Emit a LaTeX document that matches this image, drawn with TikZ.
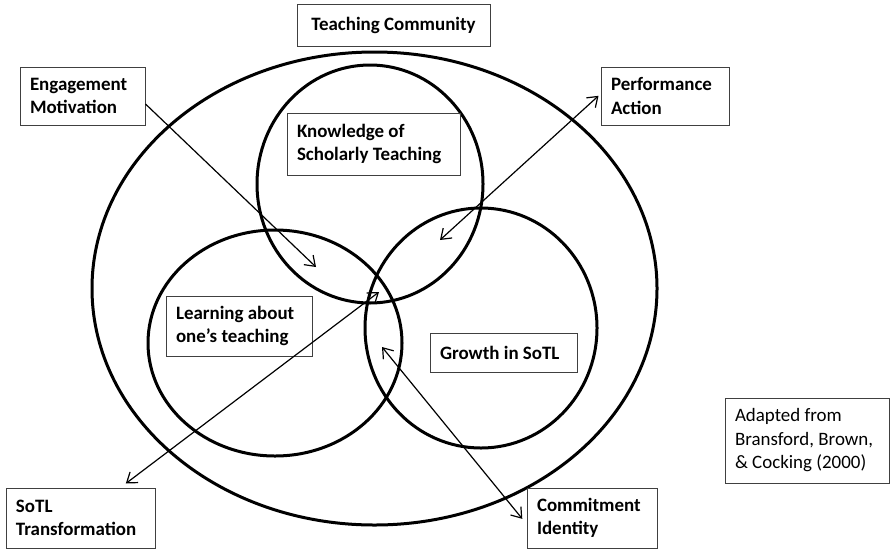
\documentclass[tikz,border=0pt]{standalone}
\usepackage{fontspec}
\setmainfont{Carlito}
\usetikzlibrary{arrows.meta}

\tikzset{
	lbl/.style={draw=black!75, line width=0.75pt, font=\bfseries\fontsize{14.2}{17.6}\selectfont, align=flush left, inner xsep=7.5pt, inner ysep=2pt},
	ring/.style={line width=2.25pt},
	oneway/.style={line width=0.9pt, -{Straight Barb[length=7pt,width=10pt]}},
	twoway/.style={line width=0.9pt, {Straight Barb[length=7pt,width=10pt]}-{Straight Barb[length=7pt,width=10pt]}},
}

\begin{document}
\begin{tikzpicture}[x=0.75pt, y=-0.75pt]
	\useasboundingbox (0,0) rectangle (891,550);

	% community and the three fields
	\draw[ring] (374.5,288.5) ellipse [x radius=282.5, y radius=236.5];
	\foreach \cx/\cy/\rx/\ry in {370/184/113/119, 275/343/127/113, 481/328/116/120} {
			\draw[ring] (\cx,\cy) ellipse [x radius=\rx, y radius=\ry];
		}

	% labels
	\node[lbl, align=flush center, text width=129.75pt, minimum height=31.5pt] (community) at (393.5,25) {Teaching Community};
	\node[lbl, text width=78.75pt, minimum height=43.5pt] (engage) at (82.5,96) {Engagement\\Motivation};
	\node[lbl, text width=81pt, minimum height=43.5pt] (perform) at (665,96) {Performance\\Action};
	\node[lbl, text width=114.75pt, minimum height=46.5pt] (know) at (373.5,144) {Knowledge of\\Scholarly Teaching};
	\node[lbl, text width=94.5pt, minimum height=45pt] (learn) at (239,326) {Learning about\\one's teaching};
	\node[lbl, text width=95.25pt, minimum height=29.25pt] (growth) at (503.5,352.5) {Growth in SoTL};
	\node[lbl, text width=96.75pt, minimum height=45pt] (sotl) at (80.5,518) {SoTL\\Transformation};
	\node[lbl, text width=82.5pt, minimum height=45pt] (commit) at (592,518) {Commitment\\Identity};
	\node[lbl, font=\mdseries\fontsize{14.2}{17.6}\selectfont, text width=108pt, minimum height=63.75pt] (adapt) at (807,440.5) {Adapted from\\Bransford, Brown,\\\& Cocking (2000)};

	% arrows
	\coordinate (engtip) at (316,267);
	\coordinate (perftip) at (440,240);
	\coordinate (sotltip) at (379,292);
	\coordinate (committip) at (382,347);
	\draw[oneway] ([yshift=-6pt]engage.east) -- (engtip);
	\draw[twoway, shorten >=2pt] (perftip) -- ([yshift=1.5pt]perform.west);
	\draw[twoway] (sotltip) -- ([xshift=34pt, yshift=3pt]sotl.north);
	\draw[twoway, shorten >=5pt] (committip) -- ([yshift=-4.5pt]commit.west);
\end{tikzpicture}
\end{document}
